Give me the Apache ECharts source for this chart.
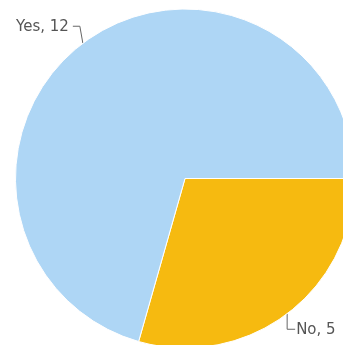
<!DOCTYPE html>
<html>
<head>
<meta charset="utf-8">
<script src="https://cdn.jsdelivr.net/npm/echarts@6/dist/echarts.min.js"></script>
<style>
  html, body { margin: 0; padding: 0; background: #fff; }
  #chart { width: 343px; height: 345px; }
</style>
</head>
<body>
<div id="chart"></div>
<script>
// Survey answers
const answers = ['No', 'Yes'];
const counts = [5, 12];
const sliceColors = ['#F6BA10', '#AED6F5'];

const chart = echarts.init(document.getElementById('chart'), null, { renderer: 'canvas' });

// Leader line shapes: short radial leg, then a short horizontal leg
function layoutLabel(params) {
  const pts = params.labelLinePoints;
  if (!pts) return {};
  const s = pts[0];
  const isLeft = params.labelRect.x < 185;
  let p1, p2, out;
  if (isLeft) {
    p1 = [s[0] - 3, s[1] - 17];
    p2 = [p1[0] - 7, p1[1]];
    out = { x: p2[0] - 4, y: p2[1] + 1, align: 'right', verticalAlign: 'middle' };
  } else {
    p1 = [s[0], s[1] + 15.5];
    p2 = [p1[0] + 8, p1[1]];
    out = { x: p2[0] + 1, y: p2[1] + 1, align: 'left', verticalAlign: 'middle' };
  }
  out.labelLinePoints = [s, p1, p2];
  return out;
}

chart.setOption({
  animation: false,
  backgroundColor: '#ffffff',
  color: sliceColors,
  series: [{
    type: 'pie',
    center: [185, 178.5],
    radius: 169.5,
    startAngle: 0,
    clockwise: true,
    avoidLabelOverlap: false,
    itemStyle: { borderColor: '#ffffff', borderWidth: 1 },
    label: {
      show: true,
      position: 'outside',
      formatter: '{b}, {c}',
      fontFamily: 'DejaVu Sans',
      fontSize: 15,
      color: '#555555'
    },
    labelLine: {
      show: true,
      length: 15,
      length2: 7,
      lineStyle: { color: '#666666', width: 1 }
    },
    labelLayout: layoutLabel,
    data: answers.map((name, i) => ({ name: name, value: counts[i] }))
  }]
});
</script>
</body>
</html>
